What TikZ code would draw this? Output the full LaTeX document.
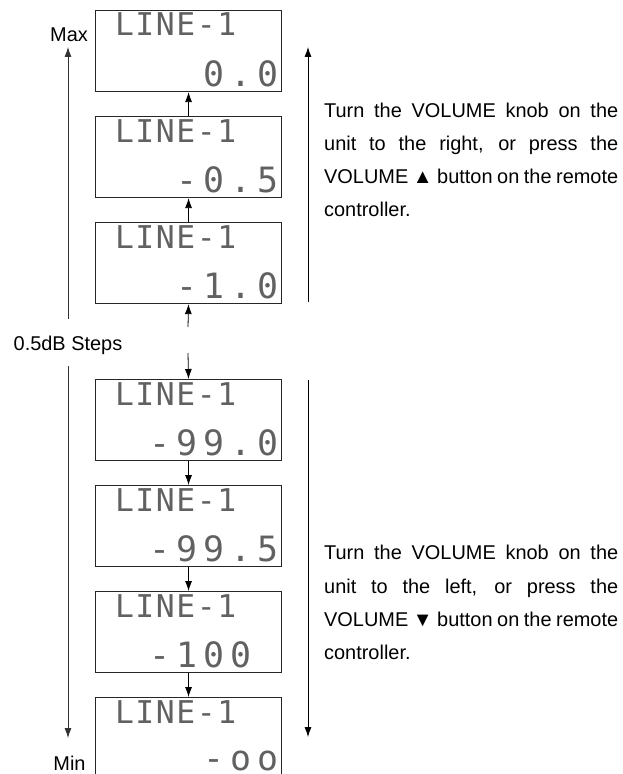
\documentclass[tikz,border=0pt]{standalone}
\usepackage{fontspec}
\setmainfont{Liberation Sans}
\newfontfamily\lcdfont{DejaVu Sans Mono}
\usetikzlibrary{arrows.meta}
\newcommand\lcdA[1]{\makebox[20.5bp]{#1}}
\newcommand\lcdB[1]{\makebox[27bp]{#1}}
\newcommand\lineone{\lcdA{L}\lcdA{I}\lcdA{N}\lcdA{E}\lcdA{-}\lcdA{1}}
\begin{document}
\begin{tikzpicture}[x=1bp,y=-1bp,
  lcdbox/.style={draw=black!85,line width=1.1bp,minimum width=186bp,minimum height=81bp,inner sep=0,anchor=north west},
  lcdtop/.style={anchor=base west,inner sep=0,text=black!62,font=\lcdfont\fontsize{31.5}{31.5}\selectfont},
  lcdbot/.style={anchor=base east,inner sep=0,text=black!62,font=\lcdfont\fontsize{35}{35}\selectfont},
  arr/.style={line width=0.8bp,draw=black,-{Latex[length=10bp,width=7bp]}},
  sidearr/.style={line width=0.8bp,draw=black!80,-{Latex[length=10bp,width=7bp]}},
  label/.style={inner sep=0,font=\fontsize{20}{24}\selectfont},
  para/.style={anchor=base west,inner sep=0,font=\fontsize{20}{24}\selectfont}]
\useasboundingbox (0,0) rectangle (623,774);
\clip (0,0) rectangle (623,774);
% boxes
\foreach \n/\t in {1/10,2/116,3/222,4/379,5/485,6/591,7/697}{
  \node[lcdbox] (b\n) at (95,\t) {};
  \node[lcdtop] (b\n l) at (114,\t+26) {\lineone};
}
\node[lcdbot] (b1v) at (282,86) {\lcdB{0}\lcdB{.}\lcdB{0}};
\node[lcdbot] (b2v) at (282,192) {\lcdB{-}\lcdB{0}\lcdB{.}\lcdB{5}};
\node[lcdbot] (b3v) at (282,298) {\lcdB{-}\lcdB{1}\lcdB{.}\lcdB{0}};
\node[lcdbot] (b4v) at (282,455) {\lcdB{-}\lcdB{9}\lcdB{9}\lcdB{.}\lcdB{0}};
\node[lcdbot] (b5v) at (282,561) {\lcdB{-}\lcdB{9}\lcdB{9}\lcdB{.}\lcdB{5}};
\node[lcdbot] (b6v) at (282,667) {\lcdB{-}\lcdB{1}\lcdB{0}\lcdB{0}\lcdB{}};
\node[lcdbot] (b7v) at (282,770.5) {\lcdB{-}\lcdB{o}\lcdB{o}};
% connectors between boxes
\draw[arr] (b2.north) -- (b1.south);
\draw[arr] (b3.north) -- (b2.south);
\coordinate (c3) at (188,327);
\draw[arr] (c3) -- (b3.south);
\coordinate (c4) at (188,353);
\draw[arr] (c4) -- (b4.north);
\draw[arr] (b4.south) -- (b5.north);
\draw[arr] (b5.south) -- (b6.north);
\draw[arr] (b6.south) -- (b7.north);
% left scale
\node[label,anchor=base] (max) at (69,42) {Max};
\node[label,anchor=base] (min) at (69.5,770) {Min};
\node[label,anchor=base] (steps) at (68,350) {0.5dB Steps};
\coordinate (lu0) at (68,319);
\coordinate (lu1) at (68,47);
\coordinate (ld0) at (68,366);
\coordinate (ld1) at (68,738);
\draw[sidearr] (lu0) -- (lu1);
\draw[sidearr] (ld0) -- (ld1);
% right arrows
\coordinate (ru0) at (308,302);
\coordinate (ru1) at (308,47);
\coordinate (rd0) at (308,380);
\coordinate (rd1) at (308,737);
\draw[arr] (ru0) -- (ru1);
\draw[arr] (rd0) -- (rd1);
% right texts
\node[para] (u1) at (324,117) {\makebox[294bp][s]{Turn the VOLUME knob on the}};
\node[para] (u2) at (324,150) {\makebox[294bp][s]{unit to the right, or press the}};
\node[para] (u3) at (324,183) {\makebox[294bp][s]{VOLUME ▲ button on the remote}};
\node[para] (u4) at (324,216) {controller.};
\node[para] (d1) at (324,559) {\makebox[294bp][s]{Turn the VOLUME knob on the}};
\node[para] (d2) at (324,593) {\makebox[294bp][s]{unit to the left, or press the}};
\node[para] (d3) at (324,626) {\makebox[294bp][s]{VOLUME ▼ button on the remote}};
\node[para] (d4) at (324,659) {controller.};
\end{tikzpicture}
\end{document}
